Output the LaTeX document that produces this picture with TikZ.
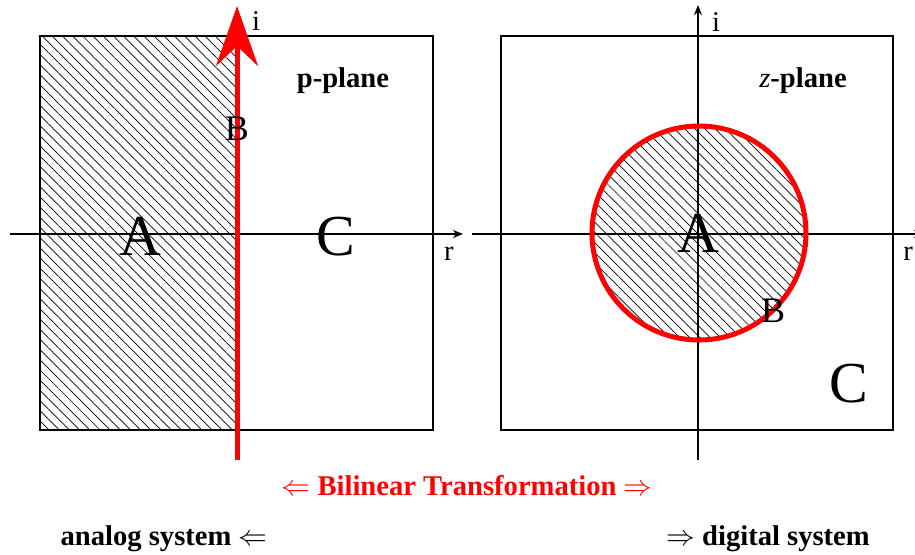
\documentclass[tikz,border=0pt]{standalone}
\usepackage{fontspec}
\setmainfont{Liberation Serif}
\usetikzlibrary{arrows.meta,patterns.meta}

\begin{document}
\begin{tikzpicture}[x=0.5pt,y=-0.5pt,
    hatch/.style={pattern={Lines[angle=-45,distance=3.6pt,line width=0.35pt]}},
    frame/.style={line width=1pt},
    axis/.style={line width=0.8pt,-{Stealth[length=5pt,width=4pt,inset=1.5pt]}},
    redaxis/.style={red,line width=2.5pt,-{Stealth[length=30pt,width=21pt,inset=10pt]}},
    big/.style={font=\fontsize{29}{30}\selectfont,anchor=base},
    mid/.style={font=\fontsize{18}{20}\selectfont,anchor=base},
    lab/.style={font=\fontsize{14.3}{16}\selectfont,anchor=base}]
  \useasboundingbox (0,0) rectangle (915,554);

  % left: p-plane
  \fill[hatch] (40,36) rectangle (237,430);
  \draw[frame] (40,36) rectangle (433,430);
  \coordinate (lxw) at (10,234);
  \coordinate (lxe) at (463,234);
  \coordinate (lys) at (237,460);
  \coordinate (lyn) at (237,6);
  \draw[axis] (lxw) -- (lxe);
  \draw[redaxis] (lys) -- (lyn);

  % right: z-plane
  \fill[hatch] (699,233) circle (107);
  \draw[frame] (501,36) rectangle (893,430);
  \coordinate (rxw) at (472,234);
  \coordinate (rxe) at (924,234);
  \coordinate (rys) at (698,460);
  \coordinate (ryn) at (698,5);
  \draw[axis] (rxw) -- (rxe);
  \draw[axis] (rys) -- (ryn);
  \draw[red,line width=2.5pt] (699,233) circle (107);

  \node[lab] (lr) at (449,260) {r};
  \node[lab] (li) at (256,30) {i};
  \node[lab] (rr) at (908,260) {r};
  \node[lab] (ri) at (716,31) {i};
  \node[lab] (pplane) at (343,87) {\textbf{p-plane}};
  \node[lab] (zplane) at (803,87) {\textit{z}\textbf{-plane}};

  \foreach \n/\x/\y/\t in {la/140/255/A,lc/336/255/C,ra/698/252/A,rc/849/402/C}
    \node[big] (\n) at (\x,\y) {\t};
  \foreach \n/\x/\y in {lb/237/140,rb/773/322}
    \node[mid] (\n) at (\x,\y) {B};

  \node[lab,text=red] (bilin) at (467,495)
    {$\Leftarrow$ \textbf{Bilinear Transformation} $\Rightarrow$};
  \node[lab] (analog) at (164,545) {\textbf{analog system} $\Leftarrow$};
  \node[lab] (digital) at (768,545) {$\Rightarrow$ \textbf{digital system}};
\end{tikzpicture}
\end{document}
